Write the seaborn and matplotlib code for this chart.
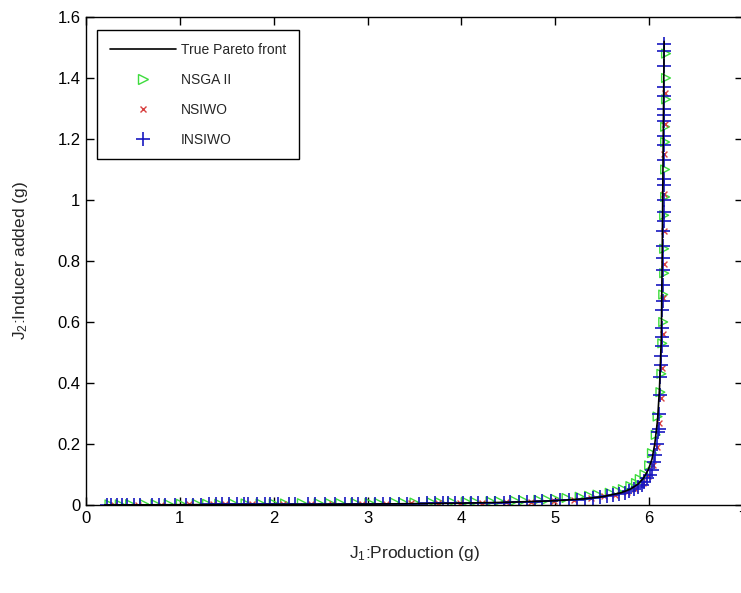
"""
Pareto fronts: true front vs NSGA II / NSIWO / INSIWO
"""
import numpy as np
import pandas as pd
import seaborn as sns
import matplotlib.pyplot as plt
from matplotlib.lines import Line2D

# true pareto front
true_x = [0.20, 1.00, 2.00, 3.00, 4.00, 4.50, 5.00, 5.30, 5.50, 5.70, 5.80, 5.88,
          5.94, 5.99, 6.03, 6.06, 6.09, 6.11, 6.13, 6.14, 6.15, 6.16]
true_y = [0.000, 0.001, 0.002, 0.003, 0.006, 0.009, 0.014, 0.020, 0.027, 0.040, 0.052, 0.068,
          0.088, 0.115, 0.150, 0.200, 0.280, 0.380, 0.550, 0.850, 1.200, 1.520]

# INSIWO (blue +)
insiwo_x = [0.22, 0.27, 0.33, 0.38, 0.44, 0.51, 0.58, 0.70, 0.78, 0.84, 0.95, 1.07, 1.14,
            1.23, 1.31, 1.38, 1.45, 1.52, 1.61, 1.68, 1.73, 1.82, 1.91, 1.96, 2.05, 2.16,
            2.23, 2.37, 2.44, 2.55, 2.65, 2.76, 2.83, 2.90, 2.98, 3.08, 3.16, 3.24, 3.33,
            3.42, 3.55, 3.63, 3.72, 3.80, 3.86, 3.93, 4.02, 4.10, 4.18, 4.27, 4.36, 4.45,
            4.52, 4.61, 4.70, 4.78, 4.86, 4.95, 5.05, 5.15, 5.23, 5.32, 5.40, 5.48, 5.55,
            5.62, 5.68, 5.74, 5.79, 5.84, 5.88, 5.92, 5.95, 5.98, 6.01, 6.03, 6.05, 6.06,
            6.08, 6.09, 6.10, 6.11, 6.12, 6.12, 6.13, 6.13, 6.14, 6.14, 6.14, 6.14, 6.15,
            6.15, 6.15, 6.15, 6.15, 6.15, 6.16, 6.16, 6.16, 6.16, 6.16, 6.16, 6.16, 6.16,
            6.16, 6.16, 6.16, 6.16, 6.16, 6.16, 6.16, 6.16]
insiwo_y = [0.000, 0.000, 0.000, 0.001, 0.001, 0.001, 0.001, 0.001, 0.001, 0.001, 0.001, 0.001, 0.001,
            0.001, 0.002, 0.002, 0.002, 0.002, 0.002, 0.002, 0.002, 0.002, 0.002, 0.002, 0.002, 0.002,
            0.002, 0.002, 0.003, 0.003, 0.003, 0.003, 0.003, 0.003, 0.003, 0.003, 0.004, 0.004, 0.004,
            0.004, 0.004, 0.005, 0.005, 0.005, 0.005, 0.006, 0.006, 0.006, 0.007, 0.007, 0.008, 0.008,
            0.009, 0.009, 0.010, 0.011, 0.012, 0.013, 0.015, 0.017, 0.018, 0.020, 0.022, 0.025, 0.028,
            0.032, 0.036, 0.040, 0.045, 0.052, 0.058, 0.065, 0.075, 0.088, 0.100, 0.115, 0.140, 0.165,
            0.200, 0.240, 0.250, 0.300, 0.360, 0.420, 0.460, 0.490, 0.520, 0.550, 0.580, 0.640, 0.670,
            0.720, 0.770, 0.810, 0.850, 0.900, 0.930, 0.960, 1.000, 1.050, 1.070, 1.130, 1.180, 1.210,
            1.260, 1.280, 1.300, 1.340, 1.370, 1.440, 1.490, 1.510]

# NSGA II (green open triangles)
nsga_x = [0.25, 0.36, 0.47, 0.62, 0.74, 0.88, 1.01, 1.18, 1.29, 1.42, 1.57, 1.70, 1.86,
          2.00, 2.12, 2.30, 2.48, 2.60, 2.71, 2.87, 3.02, 3.12, 3.29, 3.38, 3.50, 3.68,
          3.77, 3.90, 4.05, 4.14, 4.31, 4.40, 4.57, 4.66, 4.82, 4.91, 5.00, 5.12, 5.26,
          5.36, 5.45, 5.58, 5.66, 5.72, 5.80, 5.86, 5.90, 5.95, 6.00, 6.03, 6.07, 6.09,
          6.12, 6.13, 6.14, 6.15, 6.15, 6.16, 6.16, 6.16, 6.17, 6.17, 6.17, 6.17, 6.18,
          6.18, 6.18]
nsga_y = [0.002, 0.002, 0.003, 0.003, 0.003, 0.003, 0.004, 0.004, 0.004, 0.004, 0.005, 0.005, 0.005,
          0.005, 0.005, 0.006, 0.006, 0.006, 0.006, 0.007, 0.007, 0.007, 0.008, 0.008, 0.008, 0.009,
          0.009, 0.010, 0.011, 0.011, 0.012, 0.013, 0.014, 0.015, 0.017, 0.018, 0.020, 0.023, 0.027,
          0.030, 0.034, 0.040, 0.046, 0.052, 0.062, 0.072, 0.085, 0.100, 0.130, 0.170, 0.230, 0.290,
          0.370, 0.430, 0.530, 0.600, 0.690, 0.760, 0.840, 0.950, 1.010, 1.100, 1.190, 1.240, 1.330,
          1.400, 1.480]

# NSIWO (red x)
nsiwo_x = [0.30, 0.55, 0.80, 1.10, 1.35, 1.48, 1.77, 2.10, 2.40, 2.62, 2.94, 3.20, 3.46,
           3.75, 3.98, 4.22, 4.48, 4.74, 4.99, 5.20, 5.38, 5.52, 5.64, 5.76, 5.85, 5.93,
           5.99, 6.04, 6.08, 6.11, 6.13, 6.14, 6.15, 6.15, 6.16, 6.16, 6.16, 6.16, 6.17,
           6.17]
nsiwo_y = [0.001, 0.001, 0.001, 0.002, 0.002, 0.002, 0.002, 0.003, 0.003, 0.003, 0.004, 0.004, 0.005,
           0.005, 0.006, 0.007, 0.009, 0.011, 0.014, 0.018, 0.023, 0.028, 0.034, 0.044, 0.054, 0.072,
           0.095, 0.130, 0.190, 0.270, 0.350, 0.450, 0.560, 0.680, 0.790, 0.900, 1.020, 1.150, 1.250,
           1.350]

GREEN = "#3ddc3d"
RED = "#d84040"
BLUE = "#1818c0"

sns.set_style("ticks")
plt.rcParams["font.family"] = ["Liberation Sans", "DejaVu Sans"]
plt.rcParams["mathtext.default"] = "regular"

fig = plt.figure(figsize=(7.41, 5.93), dpi=100)
ax = fig.add_axes([86 / 741, 88 / 593, 657 / 741, 488 / 593])

sns.lineplot(x=true_x, y=true_y, sort=False, color="black", linewidth=1.2, ax=ax)
sns.scatterplot(x=nsga_x, y=nsga_y, marker=">", s=40, facecolor="none",
                edgecolor=GREEN, linewidth=1.0, ax=ax)
sns.scatterplot(x=nsiwo_x, y=nsiwo_y, marker="x", s=18, color=RED, linewidth=1.0, ax=ax)
sns.scatterplot(x=insiwo_x, y=insiwo_y, marker="+", s=95, color=BLUE, linewidth=1.2, ax=ax)

ax.set_xlim(0, 7)
ax.set_ylim(0, 1.6)
ax.set_xticks(range(0, 8))
ax.set_yticks(np.arange(0, 1.61, 0.2))
ax.set_yticklabels(["0", "0.2", "0.4", "0.6", "0.8", "1", "1.2", "1.4", "1.6"])
ax.tick_params(direction="in", top=True, right=True, length=6, width=1,
               labelsize=12, colors="black", pad=4)
for s in ax.spines.values():
    s.set_visible(True)
    s.set_linewidth(1.0)
    s.set_color("black")

ax.set_xlabel("J$_1$:Production (g)", fontsize=12.5, labelpad=13)
ax.set_ylabel("J$_2$:Inducer added (g)", fontsize=12.5, labelpad=20)

handles = [
    Line2D([], [], color="black", linewidth=1.2),
    Line2D([], [], linestyle="", marker=">", markersize=7, markerfacecolor="none",
           markeredgecolor=GREEN, markeredgewidth=1.0),
    Line2D([], [], linestyle="", marker="x", markersize=5, color=RED, markeredgewidth=1.0),
    Line2D([], [], linestyle="", marker="+", markersize=10, color=BLUE, markeredgewidth=1.2),
]
labels = ["True Pareto front", "NSGA II", "NSIWO", "INSIWO"]
leg = ax.legend(handles, labels, loc="upper left", bbox_to_anchor=(0.017, 0.973),
                borderaxespad=0, fontsize=10, handlelength=4.75, handletextpad=0.4,
                borderpad=0.9, labelspacing=1.15, fancybox=False, framealpha=1)
leg.get_frame().set_edgecolor("black")
leg.get_frame().set_linewidth(1.0)

fig.savefig("out.png", dpi=100)
